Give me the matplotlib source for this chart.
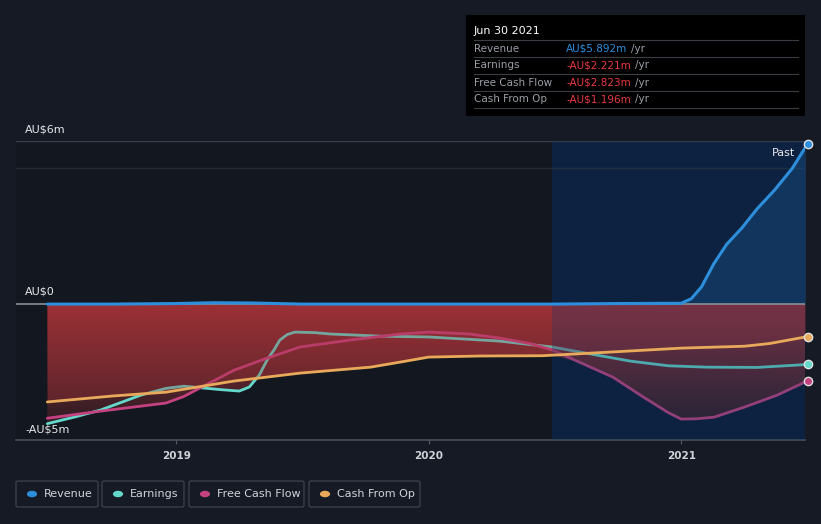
import numpy as np
import matplotlib.pyplot as plt
from matplotlib.patches import Rectangle, FancyBboxPatch, Polygon

# values in AU$ millions, x in decimal years
rev_x = [2018.49, 2018.75, 2019.0, 2019.15, 2019.3, 2019.5, 2019.75, 2020.0, 2020.25, 2020.5,
         2020.75, 2021.0, 2021.04, 2021.08, 2021.13, 2021.18, 2021.24, 2021.30, 2021.37, 2021.44, 2021.5]
rev_y = [0.0, 0.0, 0.02, 0.05, 0.04, 0.0, 0.0, 0.0, 0.0, 0.0,
         0.02, 0.03, 0.2, 0.63, 1.5, 2.2, 2.8, 3.5, 4.2, 5.0, 5.892]

earn_x = [2018.49, 2018.6, 2018.70, 2018.86, 2018.96, 2019.03, 2019.10, 2019.18, 2019.25, 2019.29,
          2019.33, 2019.36, 2019.39, 2019.41, 2019.44, 2019.47, 2019.55, 2019.61, 2019.81, 2020.0,
          2020.28, 2020.49, 2020.65, 2020.80, 2020.95, 2021.1, 2021.3, 2021.5]
earn_y = [-4.4, -4.15, -3.9, -3.35, -3.1, -3.02, -3.08, -3.15, -3.2, -3.05,
          -2.6, -2.06, -1.65, -1.33, -1.12, -1.03, -1.05, -1.1, -1.18, -1.21,
          -1.36, -1.58, -1.85, -2.1, -2.27, -2.32, -2.33, -2.221]

fcf_x = [2018.49, 2018.70, 2018.96, 2019.03, 2019.10, 2019.23, 2019.36, 2019.49, 2019.69, 2019.89,
         2020.0, 2020.16, 2020.28, 2020.40, 2020.49, 2020.60, 2020.73, 2020.85, 2020.95, 2021.0,
         2021.06, 2021.13, 2021.25, 2021.38, 2021.5]
fcf_y = [-4.2, -3.94, -3.64, -3.4, -3.06, -2.43, -1.99, -1.58, -1.32, -1.1,
         -1.03, -1.1, -1.25, -1.45, -1.69, -2.15, -2.69, -3.42, -4.0, -4.23,
         -4.22, -4.16, -3.79, -3.35, -2.823]

cfo_x = [2018.49, 2018.75, 2018.96, 2019.23, 2019.49, 2019.77, 2019.89, 2020.0, 2020.2, 2020.45,
         2020.71, 2021.0, 2021.25, 2021.35, 2021.5]
cfo_y = [-3.6, -3.38, -3.24, -2.83, -2.54, -2.32, -2.13, -1.95, -1.91, -1.9,
         -1.77, -1.62, -1.55, -1.45, -1.196]

years = [2019, 2020, 2021]
year_labels = ['2019', '2020', '2021']
legend_names = ['Revenue', 'Earnings', 'Free Cash Flow', 'Cash From Op']
legend_colors = ['#2d8fdc', '#63d8cb', '#c4427f', '#e8a95a']
tip_rows = [('Revenue', 'AU$5.892m', '#2d8fdc'), ('Earnings', '-AU$2.221m', '#e8393f'),
            ('Free Cash Flow', '-AU$2.823m', '#e8393f'), ('Cash From Op', '-AU$1.196m', '#e8393f')]

W, H = 821, 524
BG = '#151a24'
fig = plt.figure(figsize=(W / 100, H / 100), dpi=100, facecolor=BG)
ax = fig.add_axes([16 / W, 84 / H, (805 - 16) / W, (440 - 141) / H])
ax.set_facecolor('#13171f')
x0, x1 = 2018.366, 2021.49
ax.set_xlim(x0, x1)
ax.set_ylim(-5, 6)
for s in ax.spines.values():
    s.set_visible(False)
ax.set_yticks([])
ax.set_xticks(years)
ax.set_xticklabels(year_labels, color='#d0d3d8', fontsize=7.5, fontweight='bold')
ax.tick_params(axis='x', length=3, color='#555b66', pad=5)

# past region
ax.axvspan(2020.49, x1, color='#0b1a30', zorder=0)

# grid lines
ax.axhline(6, color='#3c414b', lw=1, zorder=1)
ax.axhline(5, color='#262b34', lw=1, zorder=1)
ax.axhline(-5, color='#4a4f59', lw=1.2, zorder=1, clip_on=False)

# red gradient fill between zero and lowest series
gx = np.array(sorted(set(earn_x + fcf_x + cfo_x)))
low = np.minimum.reduce([np.interp(gx, earn_x, earn_y), np.interp(gx, fcf_x, fcf_y),
                         np.interp(gx, cfo_x, cfo_y)])
poly = Polygon(np.column_stack([np.r_[gx, gx[::-1]], np.r_[low, np.zeros_like(gx)]]),
               closed=True, facecolor='none', edgecolor='none')
ax.add_patch(poly)
t = np.linspace(0, 1, 256)[:, None]
top = np.array([0.60, 0.19, 0.21])
bot = np.array([0.13, 0.10, 0.13])
grad = top + (bot - top) * t[:, :, None] * np.ones((1, 2, 1))
img = ax.imshow(grad, extent=[x0, x1, -5, 0], aspect='auto', zorder=2, origin='upper')
img.set_clip_path(poly)

ax.plot(earn_x, earn_y, color=legend_colors[1], lw=2, zorder=2.5, solid_capstyle='round')
ax.plot(fcf_x, fcf_y, color=legend_colors[2], lw=2, zorder=2.5, solid_capstyle='round')
# translucent red layer down to cash from op, over earnings / fcf
ax.fill_between(cfo_x, 0, cfo_y, color='#a33238', alpha=0.3, zorder=2.7, lw=0)

# blue overlay for past region on top of the fill
ax.axvspan(2020.49, x1, color='#14396b', alpha=0.28, zorder=3, lw=0)
ax.fill_between(rev_x, 0, rev_y, color='#1d5a96', alpha=0.35, zorder=3, lw=0)

# zero line
ax.axhline(0, color='#8a8e96', lw=1.2, zorder=4)

ax.plot(cfo_x, cfo_y, color=legend_colors[3], lw=2, zorder=5, solid_capstyle='round')
ax.plot(rev_x, rev_y, color=legend_colors[0], lw=2.2, zorder=6, solid_capstyle='round')
for xs, ys, c in [(rev_x, rev_y, legend_colors[0]), (earn_x, earn_y, legend_colors[1]),
                  (fcf_x, fcf_y, legend_colors[2]), (cfo_x, cfo_y, legend_colors[3])]:
    ax.plot(xs[-1], ys[-1], 'o', ms=6, mfc=c, mec='#e0e0e0', mew=1, zorder=7, clip_on=False)

ax.text(2021.45, 5.55, 'Past', color='#e6e8eb', fontsize=8, ha='right', va='center', zorder=8)

# y labels
fig.text(25 / W, 1 - 129 / H, 'AU$6m', color='#e6e8eb', fontsize=8, va='center')
fig.text(25 / W, 1 - 292 / H, 'AU$0', color='#e6e8eb', fontsize=8, va='center')
fig.text(25 / W, 1 - 429 / H, '-AU$5m', color='#e6e8eb', fontsize=8, va='center')

# tooltip box
fig.patches.append(Rectangle((466 / W, 1 - 116 / H), 339 / W, 101 / H, transform=fig.transFigure,
                             facecolor='#000000', edgecolor='none', zorder=10))
fig.text(474 / W, 1 - 31 / H, 'Jun 30 2021', color='#ffffff', fontsize=8, va='center', zorder=11)
renderer = fig.canvas.get_renderer()
for i, (name, val, c) in enumerate(tip_rows):
    yl = 40 + i * 17
    fig.lines.append(plt.Line2D([474 / W, 798 / W], [1 - yl / H, 1 - yl / H], transform=fig.transFigure,
                                color='#3a3d44', lw=0.8, zorder=11))
    yc = 1 - (yl + 8.5) / H
    fig.text(474 / W, yc, name, color='#9a9ea6', fontsize=7.5, va='center', zorder=11)
    vt = fig.text(566 / W, yc, val, color=c, fontsize=7.5, va='center', zorder=11)
    ext = vt.get_window_extent(renderer)
    fig.text((ext.x1 + 4) / W, yc, '/yr', color='#9a9ea6', fontsize=7.5, va='center', zorder=11)
fig.lines.append(plt.Line2D([474 / W, 798 / W], [1 - 108 / H, 1 - 108 / H], transform=fig.transFigure,
                            color='#3a3d44', lw=0.8, zorder=11))

# legend boxes
boxes = [(16, 98), (102, 184), (189, 304), (309, 420)]
for (bx0, bx1), name, c in zip(boxes, legend_names, legend_colors):
    fig.patches.append(FancyBboxPatch((bx0 / W, 1 - 507 / H), (bx1 - bx0) / W, 26 / H,
                                      boxstyle='round,pad=0,rounding_size=0.003',
                                      transform=fig.transFigure, facecolor='none',
                                      edgecolor='#3a3f4a', lw=1))
    fig.patches.append(plt.Circle(((bx0 + 16) / W, 1 - 494 / H), 0.0062, transform=fig.transFigure,
                                  facecolor=c, edgecolor='none'))
    fig.text((bx0 + 28) / W, 1 - 494 / H, name, color='#d0d3d8', fontsize=8, va='center')

fig.savefig('out.png', dpi=100, facecolor=BG)
